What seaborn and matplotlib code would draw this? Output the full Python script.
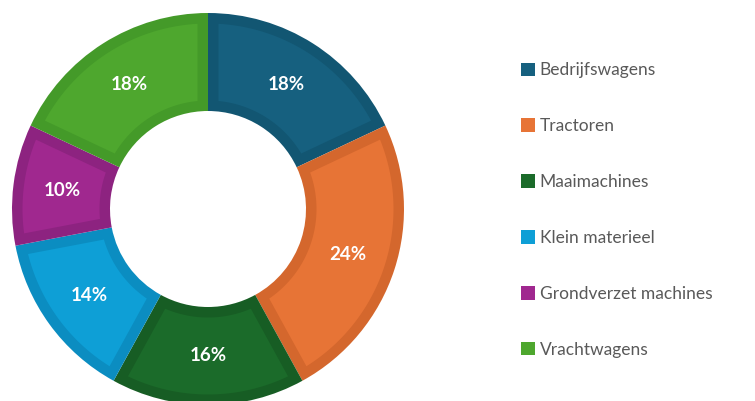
import numpy as np
import matplotlib.pyplot as plt
from matplotlib.patches import Patch, Polygon
import seaborn as sns

categories = ['Bedrijfswagens', 'Tractoren', 'Maaimachines',
              'Klein materieel', 'Grondverzet machines', 'Vrachtwagens']
shares = [18, 24, 16, 14, 10, 18]
fill_colors = ['#16607F', '#E77436', '#1B6B2A', '#0E9FD6', '#A0288F', '#4EA72E']
edge_colors = ['#125672', '#D4672D', '#175D24', '#0B8DC1', '#8D2380', '#449A29']

sns.set_style('white')
plt.rcParams['font.family'] = ['Lato', 'DejaVu Sans']

fig = plt.figure(figsize=(7.55, 4.01), dpi=100)
W, H = 755, 401
cx, cy, r = 208, 209, 196
ax = fig.add_axes([(cx - r) / W, (H - cy - r) / H, 2 * r / W, 2 * r / H])

# base ring in the darker border colours
wedges, texts, autotexts = ax.pie(shares,
                                  colors=sns.color_palette(edge_colors),
                                  startangle=90,
                                  counterclock=False,
                                  radius=1.0,
                                  autopct='%d%%',
                                  pctdistance=0.75,
                                  wedgeprops=dict(width=0.5, linewidth=0),
                                  textprops=dict(color='white', fontsize=13.5,
                                                 fontweight='bold'))

# lighter fill inset by a constant border width
d = 10.5 / r
for w, fc in zip(wedges, fill_colors):
    r_out = w.r - d
    r_in = w.r - w.width + d
    t1, t2 = np.deg2rad(min(w.theta1, w.theta2)), np.deg2rad(max(w.theta1, w.theta2))
    a_o = np.linspace(t1 + np.arcsin(d / r_out), t2 - np.arcsin(d / r_out), 80)
    a_i = np.linspace(t2 - np.arcsin(d / r_in), t1 + np.arcsin(d / r_in), 80)
    pts = np.vstack([np.column_stack([r_out * np.cos(a_o), r_out * np.sin(a_o)]),
                     np.column_stack([r_in * np.cos(a_i), r_in * np.sin(a_i)])])
    ax.add_patch(Polygon(pts, closed=True, facecolor=fc, edgecolor='none',
                         zorder=w.get_zorder() + 0.1))

for t in autotexts:
    t.set_zorder(5)

ax.set_aspect('auto')
ax.set_xlim(-1, 1)
ax.set_ylim(-1, 1)
ax.axis('off')

handles = [Patch(facecolor=c, edgecolor='none') for c in fill_colors]
fig.legend(handles, categories,
           loc='center left',
           bbox_to_anchor=(512 / W, 1 - 210 / H),
           frameon=False,
           fontsize=12.5,
           labelcolor='#595959',
           handlelength=0.8,
           handleheight=0.8,
           handletextpad=0.3,
           labelspacing=2.3,
           borderpad=0)

fig.savefig('out.png', dpi=100)
